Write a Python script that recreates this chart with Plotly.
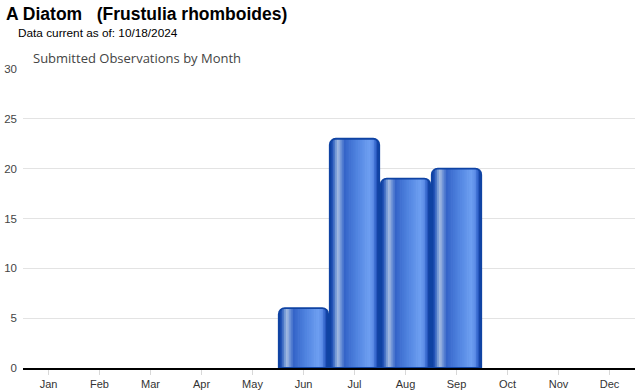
import plotly.graph_objects as go

# ---- data ----
months = ["Jan", "Feb", "Mar", "Apr", "May", "Jun", "Jul", "Aug", "Sep", "Oct", "Nov", "Dec"]
observations = [0, 0, 0, 0, 0, 6, 23, 19, 20, 0, 0, 0]
y_ticks = [0, 5, 10, 15, 20, 25, 30]

title_text = "A Diatom\u00a0\u00a0 (Frustulia rhomboides)"
subtitle_text = "Data current as of: 10/18/2024"
chart_title = "Submitted Observations by Month"

# ---- style ----
W, H = 640, 390
ML, MR, MT, MB = 23, 5, 69, 22
plot_w = W - ML - MR
plot_h = H - MT - MB
y_max = 30
px_per_cat = plot_w / len(months)
px_per_unit = plot_h / y_max

bar_w = 0.97            # bar width in category units
n_strips = 28
corner_px = 6.0

stops = [
    (0.00, (11, 58, 154)),
    (0.05, (31, 80, 181)),
    (0.11, (100, 140, 208)),
    (0.17, (169, 191, 227)),
    (0.23, (104, 142, 214)),
    (0.30, (53, 100, 200)),
    (0.55, (80, 132, 224)),
    (0.80, (110, 159, 241)),
    (0.88, (90, 138, 230)),
    (0.94, (42, 91, 194)),
    (1.00, (11, 58, 154)),
]


def grad(t):
    for (t0, c0), (t1, c1) in zip(stops[:-1], stops[1:]):
        if t0 <= t <= t1:
            f = (t - t0) / (t1 - t0)
            c = [round(a + (b - a) * f) for a, b in zip(c0, c1)]
            return "rgb(%d,%d,%d)" % tuple(c)
    return "rgb(%d,%d,%d)" % stops[-1][1]


fig = go.Figure()

strip_w = bar_w / n_strips
bar_px = bar_w * px_per_cat
for i in range(n_strips):
    t = (i + 0.5) / n_strips
    d_px = min(t, 1 - t) * bar_px  # distance of strip center from nearest bar edge
    dy_px = 0.0
    if d_px < corner_px:
        dy_px = corner_px - (corner_px ** 2 - (corner_px - d_px) ** 2) ** 0.5
    ys = [max(v - dy_px / px_per_unit, 0) if v > 0 else None for v in observations]
    w = strip_w * (1.4 if i < n_strips - 1 else 1.0)
    fig.add_trace(go.Bar(
        x=months, y=ys,
        width=[w] * len(months),
        offset=[-bar_w / 2 + i * strip_w] * len(months),
        marker=dict(color=grad(t), line=dict(width=0), cornerradius=0),
        hoverinfo="skip", showlegend=False,
    ))

# outline with rounded corners
fig.add_trace(go.Bar(
    x=months, y=[v if v > 0 else None for v in observations],
    width=[bar_w] * len(months),
    offset=[-bar_w / 2] * len(months),
    marker=dict(color="rgba(0,0,0,0)", line=dict(color="#0f43a3", width=1.8),
                cornerradius=corner_px),
    showlegend=False,
    hovertemplate="%{x}: %{y}<extra></extra>",
))


def py(pix):
    return (H - MB - pix) / plot_h


def px(pix):
    return (pix - ML) / plot_w


fig.update_layout(
    width=W, height=H,
    margin=dict(l=ML, r=MR, t=MT, b=MB, pad=0),
    paper_bgcolor="white", plot_bgcolor="white",
    barmode="overlay",
    font=dict(family="Arial, Liberation Sans, sans-serif", size=11, color="#444"),
    xaxis=dict(
        type="category", categoryorder="array", categoryarray=months,
        range=[-0.5, len(months) - 0.5],
        showline=True, linecolor="#000", linewidth=2,
        ticks="outside", ticklen=5, tickcolor="#d8d8d8", tickwidth=1,
        showgrid=False, tickfont=dict(size=11, color="#333"),
        automargin=False, fixedrange=True,
    ),
    yaxis=dict(
        range=[0, y_max], tickvals=y_ticks,
        showgrid=True, gridcolor="#e3e3e3", gridwidth=1,
        zeroline=False, showline=False,
        tickfont=dict(size=11.5, color="#444"),
        ticklabelstandoff=5,
        automargin=False, fixedrange=True,
    ),
    annotations=[
        dict(text="<b>" + title_text + "</b>", xref="paper", yref="paper",
             x=px(4), y=py(14), xanchor="left", yanchor="middle", showarrow=False,
             font=dict(family="Arial, Liberation Sans, sans-serif", size=17.5, color="#000")),
        dict(text=subtitle_text, xref="paper", yref="paper",
             x=px(16), y=py(33), xanchor="left", yanchor="middle", showarrow=False,
             font=dict(family="Arial, Liberation Sans, sans-serif", size=11.8, color="#000")),
        dict(text=chart_title, xref="paper", yref="paper",
             x=px(31), y=py(58), xanchor="left", yanchor="middle", showarrow=False,
             font=dict(family="Open Sans, sans-serif", size=13, color="#444")),
    ],
)

fig.write_html("out.html")
